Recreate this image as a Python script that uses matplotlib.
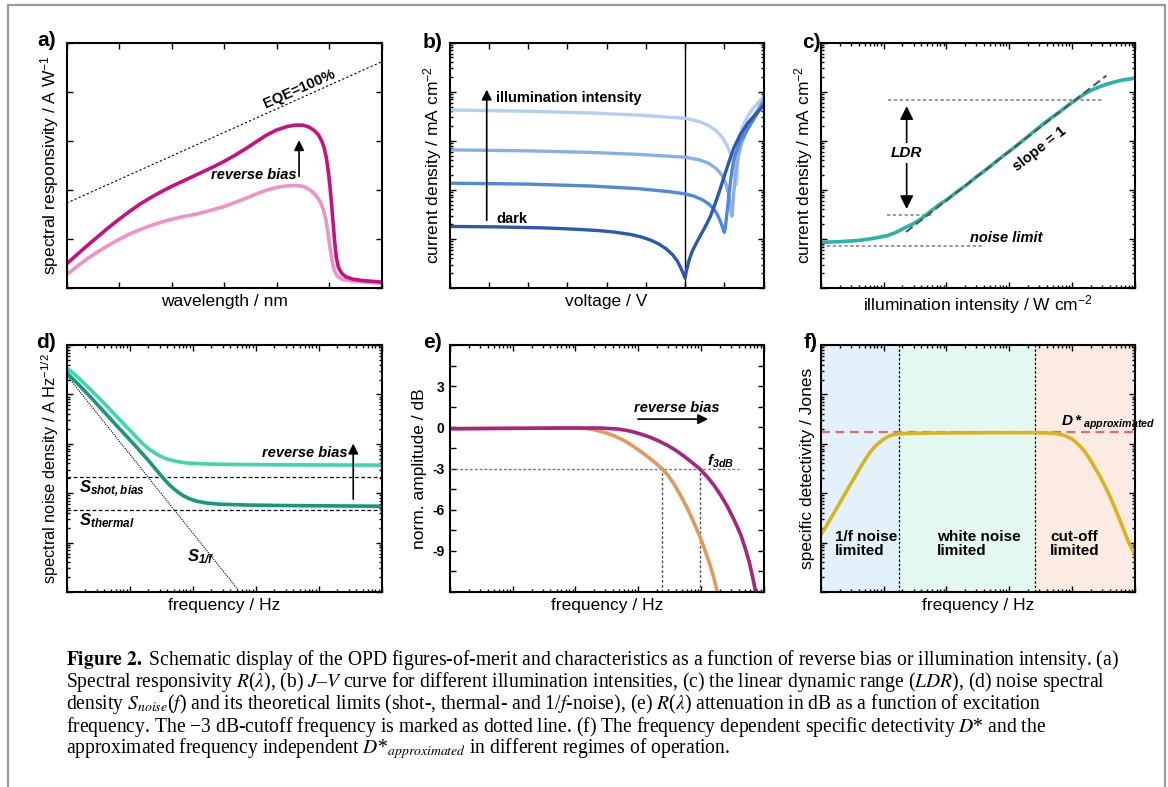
import numpy as np
import matplotlib.pyplot as plt
from matplotlib.ticker import LogLocator, NullFormatter, MultipleLocator
from matplotlib.patches import Rectangle

plt.rcParams['font.family'] = ['Liberation Sans', 'DejaVu Sans']
plt.rcParams['mathtext.fontset'] = 'custom'
plt.rcParams['mathtext.rm'] = 'Liberation Sans'
plt.rcParams['mathtext.it'] = 'Liberation Sans:italic'
plt.rcParams['mathtext.bf'] = 'Liberation Sans:bold'
plt.rcParams['mathtext.bfit'] = 'Liberation Sans:italic:bold'

# ---- data read off the schematic ----
# (a) spectral responsivity, wavelength in nm, R in A/W
a_wl_hi = [300, 320, 340, 360, 380, 400, 420, 440, 460, 480, 500, 520, 540, 560, 580, 600, 620, 640, 660, 680,
           700, 720, 735, 750, 762, 772, 780, 786, 791, 795, 799, 802, 805, 808, 811, 814, 818, 824, 832, 845, 865, 900]
a_R_hi = [0.049, 0.068, 0.087, 0.105, 0.123, 0.140, 0.156, 0.171, 0.184, 0.196, 0.207, 0.217, 0.227, 0.237, 0.247,
          0.258, 0.270, 0.283, 0.297, 0.311, 0.322, 0.329, 0.332, 0.332, 0.328, 0.321, 0.312, 0.300, 0.285, 0.265,
          0.235, 0.205, 0.170, 0.130, 0.092, 0.062, 0.042, 0.030, 0.023, 0.018, 0.015, 0.012]
a_wl_lo = [300, 320, 340, 360, 380, 400, 420, 440, 460, 480, 500, 520, 540, 560, 580, 600, 620, 640, 660, 680,
           700, 720, 738, 752, 765, 775, 783, 789, 794, 798, 802, 806, 810, 816, 825, 840, 870, 900]
a_R_lo = [0.027, 0.044, 0.060, 0.074, 0.087, 0.099, 0.110, 0.119, 0.127, 0.134, 0.140, 0.145, 0.149, 0.154, 0.160,
          0.166, 0.174, 0.182, 0.191, 0.199, 0.205, 0.208, 0.209, 0.207, 0.199, 0.189, 0.176, 0.160, 0.140, 0.112,
          0.082, 0.055, 0.036, 0.024, 0.018, 0.015, 0.012, 0.010]
a_eqe_wl = [300, 900]
a_eqe_R = [0.173, 0.461]

# (b) J-V curves, V in V, |J| arbitrary mA/cm2
b_V_dark = [-1.5, -1.2, -0.9, -0.7, -0.55, -0.45, -0.35, -0.28, -0.22, -0.17, -0.12, -0.08, -0.05, -0.03, -0.012, 0.0,
            0.01, 0.025, 0.045, 0.07, 0.10, 0.13, 0.16, 0.19, 0.22, 0.25, 0.28, 0.31, 0.35, 0.40, 0.45, 0.5]
b_J_dark = [18.0, 17.6, 16.8, 15.8, 14.8, 13.8, 12.4, 11.0, 9.5, 8.0, 6.3, 4.8, 3.6, 2.7, 2.0, 1.6,
            2.3, 3.6, 5.5, 8.0, 12.0, 18.0, 28, 50, 95, 190, 370, 700, 1300, 2300, 3500, 5140]
b_V_1 = [-1.5, -1.0, -0.6, -0.3, -0.1, 0.0, 0.06, 0.11, 0.15, 0.18, 0.205, 0.225, 0.240, 0.250, 0.256, 0.262,
         0.270, 0.280, 0.29, 0.30, 0.32, 0.35, 0.40, 0.45, 0.5]
b_J_1 = [137, 131, 120, 106, 92, 83, 74, 63, 52, 42, 32, 23, 17, 13.6, 16, 24, 40, 80, 150, 260, 520, 950, 1750, 3200, 6000]
b_V_2 = [-1.5, -1.0, -0.6, -0.3, 0.0, 0.09, 0.15, 0.20, 0.235, 0.26, 0.275, 0.287, 0.295, 0.299, 0.303, 0.31,
         0.32, 0.335, 0.36, 0.40, 0.45, 0.5]
b_J_2 = [654, 625, 580, 530, 464, 409, 350, 270, 200, 135, 90, 55, 32, 29, 40, 85, 180, 420, 900, 1800, 3600, 7000]
b_V_3 = [-1.5, -1.0, -0.6, -0.3, 0.0, 0.09, 0.15, 0.20, 0.24, 0.27, 0.29, 0.305, 0.315, 0.322, 0.326, 0.330,
         0.336, 0.345, 0.36, 0.39, 0.43, 0.47, 0.5]
b_J_3 = [4265, 4000, 3700, 3350, 2880, 2480, 2050, 1600, 1150, 780, 540, 350, 220, 150, 127, 170,
         350, 900, 1700, 2800, 4500, 6200, 7900]

# (c) linear dynamic range
c_I = [1, 2, 4, 7, 11.2, 16, 22, 30, 40, 55, 75, 101, 150, 210, 300, 437, 700, 1161, 2000, 3080, 4500, 6410,
       8500, 10450, 13500, 17000, 22000, 27700, 35000, 45200, 58000, 73700, 100000]
c_J = [8.5, 8.8, 9.3, 10.3, 11.6, 13.7, 17.0, 20.5, 26, 36, 49, 62.8, 93, 127, 185, 264, 430, 707, 1240, 1950,
       2850, 3940, 5200, 6300, 7900, 9600, 11300, 12700, 14200, 15600, 16900, 17900, 18800]
c_fit_I = [22.8, 35000]
c_fit_J = [13.9, 21350]
c_ldr_top = 6810
c_ldr_bot = 31.1
c_noise = 7.05

# (d) noise spectral density
d_f_hi = [1, 1.5, 2.2, 3.2, 4.6, 6.5, 9, 12, 16, 21, 28, 38, 55, 80, 120, 200, 500, 3000, 100000]
d_S_hi = [34750, 22500, 14000, 8700, 5400, 3400, 2200, 1500, 1020, 760, 600, 500, 440, 410, 397, 388, 381, 375, 370]
d_f_lo = [1, 1.5, 2.12, 3, 4.41, 6.5, 9.14, 13, 16.8, 20, 24.2, 29, 34.8, 42, 50.1, 60, 72.1, 90, 117, 170, 275,
          800, 3130, 100000]
d_S_lo = [27500, 16500, 10470, 6500, 3810, 2200, 1387, 850, 589, 460, 342, 260, 198, 152, 124, 103, 88.3, 77,
          68.9, 63, 59.8, 57.5, 56.2, 54.5]
d_f_1f = [1, 537]
d_S_1f = [24650, 1.08]
d_S_shot = 214
d_S_thermal = 45.2

# (e) normalised amplitude
e_f_orange = [1, 11.6, 73.4, 120, 153, 200, 251, 320, 409, 530, 669, 850, 1093, 1300, 1578, 1950, 2427, 3000,
              3726, 4700, 6090, 7600, 9590, 11500, 13520, 16000, 18380]
e_dB_orange = [-0.10, -0.07, -0.05, -0.07, -0.10, -0.18, -0.29, -0.43, -0.61, -0.84, -1.09, -1.40, -1.75, -2.00,
               -2.31, -2.65, -3.02, -3.50, -4.12, -4.92, -5.89, -6.85, -7.90, -8.88, -9.80, -10.9, -12.04]
e_f_purple = [1, 73.4, 251, 463, 650, 855, 1150, 1578, 2100, 2917, 4000, 5390, 7200, 9590, 12500, 16260, 21000,
              26550, 34000, 43400, 51000, 59000, 67000, 75400]
e_dB_purple = [-0.10, -0.05, -0.05, -0.12, -0.22, -0.34, -0.52, -0.73, -0.98, -1.30, -1.68, -2.10, -2.55, -3.02,
               -3.58, -4.22, -4.98, -5.77, -6.75, -7.83, -8.8, -9.78, -10.9, -12.04]
e_f3db = [2427, 9590]
e_yticks = [-9, -6, -3, 0, 3]

# (f) specific detectivity
f_f = [1, 1.2, 1.41, 1.7, 2.04, 2.45, 2.94, 3.5, 4.24, 5.1, 6.12, 7.3, 8.85, 10.6, 12.8, 15.3, 18.4, 25, 55.6,
       349, 2477, 4000, 5840, 7500, 9520, 11500, 13750, 16500, 19860, 24000, 28640, 34500, 41400, 50000, 59800,
       68000, 76400, 88000, 100000]
f_D = [14.3, 20.5, 29.4, 44, 65.8, 98, 147, 215, 329, 480, 679, 880, 1101, 1300, 1472, 1560, 1595, 1625, 1648,
       1675, 1675, 1660, 1595, 1470, 1294, 1080, 865, 650, 454, 300, 203, 127, 77.3, 44, 25.0, 16.5, 11.2, 7.8, 5.88]
f_D_approx = 1730
f_bounds = [17.4, 2535]
f_regions = ['1/f noise\nlimited', 'white noise\nlimited', 'cut-off\nlimited']
f_region_x = [1.69, 71, 4455]

caption = [
    r"$\mathbf{Figure\ 2.}$ Schematic display of the OPD figures-of-merit and characteristics as a function of reverse bias or illumination intensity. (a)",
    r"Spectral responsivity $R$($\lambda$), (b) $J$–$V$ curve for different illumination intensities, (c) the linear dynamic range ($LDR$), (d) noise spectral",
    r"density $S_{noise}$($f$) and its theoretical limits (shot-, thermal- and 1/$f$-noise), (e) $R$($\lambda$) attenuation in dB as a function of excitation",
    r"frequency. The −3 dB-cutoff frequency is marked as dotted line. (f) The frequency dependent specific detectivity $D$* and the",
    r"approximated frequency independent $D$*${}_{approximated}$ in different regimes of operation.",
]

W, H = 1168, 787
fig = plt.figure(figsize=(W / 100, H / 100), dpi=100)


def add_ax(l, t, r, b):
    return fig.add_axes([l / W, 1 - b / H, (r - l) / W, (b - t) / H])


def style(ax, xlog=False, ylog=False):
    if xlog:
        ax.set_xscale('log')
        ax.xaxis.set_major_locator(LogLocator(base=10, numticks=100))
        ax.xaxis.set_minor_locator(LogLocator(base=10, subs=np.arange(2, 10), numticks=100))
        ax.xaxis.set_minor_formatter(NullFormatter())
    if ylog:
        ax.set_yscale('log')
        ax.yaxis.set_major_locator(LogLocator(base=10, numticks=100))
        ax.yaxis.set_minor_locator(LogLocator(base=10, subs=np.arange(2, 10), numticks=100))
        ax.yaxis.set_minor_formatter(NullFormatter())
    ax.tick_params(which='both', direction='in', top=True, right=True,
                   labelbottom=False, labelleft=False, width=1)
    ax.tick_params(which='major', length=4.5)
    ax.tick_params(which='minor', length=2.5)
    for s in ax.spines.values():
        s.set_linewidth(1.5)


LBL = 12.5
ANN = 10.5

# ---------- (a)
ax = add_ax(66.5, 42.7, 381.5, 288)
style(ax)
ax.plot(a_eqe_wl, a_eqe_R, color='k', lw=0.8, ls=(0, (2, 2)))
ax.plot(a_wl_lo, a_R_lo, color='#ef92c8', lw=2.6)
ax.plot(a_wl_hi, a_R_hi, color='#c8117f', lw=2.6)
ax.set_xlim(300, 900)
ax.set_ylim(0, 0.5)
ax.set_xticks(np.arange(300, 901, 100))
ax.set_yticks(np.arange(0, 0.51, 0.1))
ax.text(744, 0.405, 'EQE=100%', rotation=24, ha='center', va='center', fontsize=ANN, fontweight='bold')
ax.text(738, 0.231, 'reverse bias', ha='right', va='center', fontsize=ANN, fontweight='bold', style='italic')
ax.annotate('', xy=(743, 0.307), xytext=(743, 0.222),
            arrowprops=dict(arrowstyle='-|>,head_length=0.6,head_width=0.3', color='k', lw=1.2))
ax.set_xlabel('wavelength / nm', fontsize=LBL)
ax.set_ylabel(r'spectral responsivity / A W$^{-1}$', fontsize=LBL)

# ---------- (b)
ax = add_ax(449.5, 42.7, 763.5, 288)
style(ax, ylog=True)
ax.axvline(0, color='k', lw=1)
ax.plot(b_V_3, b_J_3, color='#b4cef2', lw=2.4)
ax.plot(b_V_2, b_J_2, color='#8baee8', lw=2.4)
ax.plot(b_V_1, b_J_1, color='#5088dc', lw=2.4)
ax.plot(b_V_dark, b_J_dark, color='#2c58b2', lw=2.4)
ax.set_xlim(-1.5, 0.5)
ax.set_ylim(1, 1e5)
ax.set_xticks(np.arange(-1.5, 0.51, 0.25))
ax.annotate('', xy=(-1.263, 12600), xytext=(-1.263, 21),
            arrowprops=dict(arrowstyle='-|>,head_length=0.6,head_width=0.3', color='k', lw=1.2))
ax.text(-1.203, 7360, 'illumination intensity', ha='left', va='center', fontsize=ANN, fontweight='bold')
ax.text(-1.199, 25.8, 'dark', ha='left', va='center', fontsize=ANN, fontweight='bold')
ax.set_xlabel('voltage / V', fontsize=LBL)
ax.set_ylabel(r'current density / mA cm$^{-2}$', fontsize=LBL)

# ---------- (c)
ax = add_ax(820.7, 42.7, 1135, 288)
style(ax, xlog=True, ylog=True)
ax.plot([11.9, 31300], [c_ldr_top, c_ldr_top], color='#888888', lw=1.2, ls=(0, (2, 1.5)))
ax.plot([11.2, 62], [c_ldr_bot, c_ldr_bot], color='#888888', lw=1.2, ls=(0, (2, 1.5)))
ax.plot([1, 387], [c_noise, c_noise], color='#888888', lw=1.2, ls=(0, (2, 1.5)))
ax.plot(c_I, c_J, color='#2ab3a8', lw=2.6)
ax.plot(c_fit_I, c_fit_J, color='#555555', lw=1.5, ls=(0, (4, 2)))
ax.set_xlim(1, 1e5)
ax.set_ylim(1, 1e5)
ax.annotate('', xy=(23.3, c_ldr_top * 0.85), xytext=(23.3, c_ldr_bot * 1.15),
            arrowprops=dict(arrowstyle='<|-|>,head_length=0.8,head_width=0.4', color='k', lw=1.2))
ax.text(23.3, 560, 'LDR', ha='center', va='center', fontsize=11, fontweight='bold', style='italic',
        bbox=dict(fc='white', ec='none', pad=2))
ax.text(3010, 675, 'slope = 1', rotation=38, ha='center', va='center', fontsize=ANN, fontweight='bold')
ax.text(910, 10.4, 'noise limit', ha='center', va='center', fontsize=ANN, fontweight='bold', style='italic')
ax.set_xlabel(r'illumination intensity / W cm$^{-2}$', fontsize=LBL)
ax.set_ylabel(r'current density / mA cm$^{-2}$', fontsize=LBL)

# ---------- (d)
ax = add_ax(66.5, 345, 381.5, 592)
style(ax, xlog=True, ylog=True)
ax.axhline(d_S_shot, color='k', lw=0.9, ls=(0, (3, 2)))
ax.axhline(d_S_thermal, color='k', lw=0.9, ls=(0, (3, 2)))
ax.plot(d_f_1f, d_S_1f, color='k', lw=0.8, ls=(0, (1, 1)))
ax.plot(d_f_hi, d_S_hi, color='#3fd5ae', lw=2.6)
ax.plot(d_f_lo, d_S_lo, color='#16987a', lw=2.6)
ax.set_xlim(1, 1e5)
ax.set_ylim(1, 1e5)
ax.text(1.6, 124, r'$\mathbfit{S}_{\mathbfit{shot,bias}}$', ha='left', va='center', fontsize=12)
ax.text(1.6, 28.4, r'$\mathbfit{S}_{\mathbfit{thermal}}$', ha='left', va='center', fontsize=12)
ax.text(81.5, 5.1, r'$\mathbfit{S}_{\mathbfit{1/f}}$', ha='left', va='center', fontsize=12)
ax.text(29000, 657, 'reverse bias', ha='right', va='center', fontsize=ANN, fontweight='bold', style='italic')
ax.annotate('', xy=(35600, 1150), xytext=(35600, 66.7),
            arrowprops=dict(arrowstyle='-|>,head_length=0.6,head_width=0.3', color='k', lw=1.2))
ax.set_xlabel('frequency / Hz', fontsize=LBL)
ax.set_ylabel(r'spectral noise density / A Hz$^{-1/2}$', fontsize=11.8)

# ---------- (e)
ax = add_ax(450, 345, 763.5, 592)
style(ax, xlog=True)
ax.plot([1, 40800], [-3, -3], color='#777777', lw=1, ls=(0, (2, 1.5)))
for fx in e_f3db:
    ax.plot([fx, fx], [-12, -3], color='#555555', lw=1, ls=(0, (2, 1.5)))
ax.plot(e_f_orange, e_dB_orange, color='#e09a5e', lw=2.6)
ax.plot(e_f_purple, e_dB_purple, color='#a8247e', lw=2.6)
ax.set_xlim(1, 1e5)
ax.set_ylim(-12, 6)
ax.set_yticks(e_yticks)
ax.set_yticklabels([str(v) for v in e_yticks], fontweight='bold', fontsize=10)
ax.yaxis.set_minor_locator(MultipleLocator(1.5))
ax.tick_params(axis='y', which='both', length=4.5, labelleft=True, pad=4)
ax.text(855, 1.4, 'reverse bias', ha='left', va='center', fontsize=ANN, fontweight='bold', style='italic')
ax.annotate('', xy=(14500, 0.6), xytext=(900, 0.6),
            arrowprops=dict(arrowstyle='-|>,head_length=0.6,head_width=0.3', color='k', lw=1.2))
ax.text(12700, -2.5, r'$\mathbfit{f}_{\mathbfit{3dB}}$', ha='left', va='center', fontsize=11)
ax.set_xlabel('frequency / Hz', fontsize=LBL)
ax.set_ylabel('norm. amplitude / dB', fontsize=LBL)

# ---------- (f)
ax = add_ax(820.7, 345, 1135, 592)
style(ax, xlog=True, ylog=True)
ax.set_xlim(1, 1e5)
ax.set_ylim(1, 1e5)
ax.axvspan(1, f_bounds[0], color='#e3f1fb', lw=0)
ax.axvspan(f_bounds[0], f_bounds[1], color='#e3f8f1', lw=0)
ax.axvspan(f_bounds[1], 1e5, color='#fcebe2', lw=0)
for bx in f_bounds:
    ax.axvline(bx, color='k', lw=0.9, ls=(0, (2, 1.5)))
ax.axhline(f_D_approx, color='#e86a6a', lw=1.6, ls=(0, (4, 2.5)))
ax.plot(f_f, f_D, color='#d9b41c', lw=2.6)
for txt, tx in zip(f_regions, f_region_x):
    ax.text(tx, 9.5, txt, ha='left', va='center', fontsize=11, fontweight='bold', linespacing=1.0)
ax.text(6590, 2700, r'$\mathbfit{D*}_{\mathbfit{approximated}}$', ha='left', va='center', fontsize=11)
ax.set_xlabel('frequency / Hz', fontsize=LBL)
ax.set_ylabel('specific detectivity / Jones', fontsize=LBL)

# panel letters
for lab, px, py in [('a)', 47, 41), ('b)', 433, 42), ('c)', 811, 42),
                    ('d)', 46, 342), ('e)', 432, 343), ('f)', 811, 343)]:
    fig.text(px / W, 1 - py / H, lab, ha='center', va='center', fontsize=15, fontweight='bold')

# caption
for i, line in enumerate(caption):
    fig.text(66 / W, 1 - (660 + 22.2 * i) / H, line, ha='left', va='center',
             fontsize=14.1, family=['Liberation Serif', 'DejaVu Serif'], math_fontfamily='stix')

fig.add_artist(Rectangle((8 / W, -0.05), (1165 - 8) / W, 1 - 5 / H + 0.05, transform=fig.transFigure,
                         fill=False, ec='#9a9a9a', lw=1.6, clip_on=False))

fig.savefig('out.png', dpi=100)
